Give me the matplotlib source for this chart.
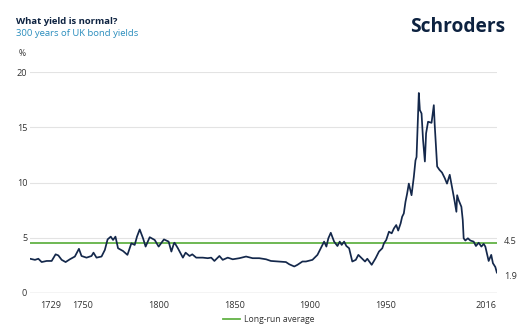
import matplotlib
matplotlib.use("Agg")
import matplotlib.pyplot as plt
import matplotlib.transforms as mtransforms
from matplotlib.lines import Line2D

plt.rcParams['font.family'] = ['Open Sans', 'DejaVu Sans']

# UK bond yield series (%)
years = [1715.1, 1718.4, 1720.6, 1722.8, 1726.1, 1729.4, 1732.0, 1733.8, 1736.0, 1738.6,
         1741.4, 1744.7, 1747.4, 1749.1, 1752.4, 1755.7, 1757.0, 1759.0, 1762.3, 1764.5,
         1766.3, 1768.4, 1769.9, 1771.5, 1773.2, 1776.5, 1779.4, 1782.0, 1784.2, 1785.7,
         1787.5, 1789.7, 1791.4, 1794.1, 1797.4, 1800.0, 1803.5, 1806.6, 1808.4, 1810.1,
         1810.5, 1812.7, 1816.0, 1817.8, 1820.4, 1822.2, 1824.8, 1829.1, 1832.4, 1834.7,
         1836.8, 1840.1, 1842.3, 1845.6, 1848.9, 1853.3, 1857.7, 1862.0, 1866.4, 1870.9,
         1874.1, 1879.6, 1884.0, 1886.2, 1889.5, 1891.6, 1894.9, 1897.2, 1901.5, 1904.8,
         1907.0, 1909.2, 1910.7, 1912.0, 1913.6, 1915.8, 1918.0, 1919.5, 1920.8, 1922.4,
         1923.9, 1925.7, 1927.8, 1930.1, 1931.8, 1934.0, 1936.2, 1937.7, 1940.6, 1943.2,
         1945.4, 1947.6, 1948.7, 1950.2, 1952.0, 1953.8, 1955.3, 1956.8, 1958.1, 1959.7,
         1960.7, 1961.8, 1962.9, 1964.0, 1965.1, 1966.9, 1968.4, 1969.5, 1970.2, 1971.1,
         1971.7, 1972.4, 1973.5, 1974.5, 1975.7, 1976.5, 1977.8, 1980.1, 1981.6, 1982.2,
         1983.8, 1985.3, 1987.0, 1988.8, 1990.3, 1992.1, 1993.6, 1995.4, 1996.5, 1997.0,
         1998.0, 1999.8, 2000.7, 2001.3, 2002.4, 2004.1, 2005.7, 2007.9, 2009.4, 2011.2,
         2013.0, 2014.5, 2015.6, 2016.6, 2017.8, 2019.5, 2020.6, 2022.2, 2023.2]
yields = [3.1, 3.0, 3.1, 2.8, 2.9, 2.9, 3.5, 3.4, 3.0, 2.8,
          3.05, 3.3, 4.0, 3.35, 3.2, 3.35, 3.65, 3.2, 3.3, 3.9,
          4.85, 5.1, 4.8, 5.1, 4.05, 3.8, 3.45, 4.5, 4.35, 5.1,
          5.75, 4.95, 4.2, 5.05, 4.8, 4.2, 4.85, 4.65, 3.75, 4.5,
          4.55, 4.05, 3.2, 3.65, 3.35, 3.5, 3.2, 3.2, 3.15, 3.2,
          2.9, 3.35, 3.0, 3.2, 3.05, 3.15, 3.3, 3.15, 3.15, 3.05,
          2.9, 2.85, 2.8, 2.6, 2.4, 2.55, 2.85, 2.85, 3.0, 3.45,
          4.05, 4.65, 4.2, 4.95, 5.45, 4.65, 4.25, 4.65, 4.35, 4.65,
          4.25, 4.05, 2.85, 3.0, 3.45, 3.15, 2.85, 3.1, 2.55, 3.15,
          3.75, 4.05, 4.5, 4.8, 5.55, 5.4, 5.85, 6.15, 5.65, 6.3,
          6.9, 7.2, 8.25, 9.0, 9.9, 8.85, 10.5, 12.0, 12.3, 15.95,
          18.1, 16.55, 16.25, 13.85, 11.9, 14.45, 15.5, 15.4, 17.0, 15.2,
          11.45, 11.15, 10.9, 10.4, 9.9, 10.7, 9.6, 8.25, 7.35, 8.85,
          8.4, 7.8, 6.6, 4.95, 4.75, 4.95, 4.75, 4.65, 4.25, 4.55,
          4.2, 4.45, 4.2, 3.6, 2.9, 3.45, 2.7, 2.35, 1.85]

long_run_average = 4.5
latest_value = 1.9
x_tick_years = [1729, 1750, 1800, 1850, 1900, 1950, 2016]
x_tick_labels = ["1729", "1750", "1800", "1850", "1900", "1950", "2016"]
y_ticks = [0, 5, 10, 15, 20]

navy = '#14284b'
green = '#62b245'
grid_c = '#e3e3e3'
text_c = '#333333'

W, H = 529, 331
fig = plt.figure(figsize=(W / 100, H / 100), dpi=100)
ax = fig.add_axes([30 / W, 1 - 293 / H, (497 - 30) / W, (293 - 72) / H])

ax.set_xlim(1715.1, 2023.3)
ax.set_ylim(0, 20)

for v in y_ticks[1:]:
    ax.axhline(v, color=grid_c, lw=0.8, zorder=1)
ax.axhline(0, color='#c9c9c9', lw=1.0, zorder=1)

ax.axhline(long_run_average, color=green, lw=1.3, zorder=2)
ax.plot(years, yields, color=navy, lw=1.25, zorder=3, solid_joinstyle='round')

for s in ax.spines.values():
    s.set_visible(False)

ax.set_yticks(y_ticks)
ax.set_yticklabels([str(v) for v in y_ticks])
ax.set_xticks(x_tick_years)
ax.set_xticklabels(x_tick_labels)
ax.tick_params(axis='both', length=0, labelsize=6.6, colors=text_c)
ax.tick_params(axis='y', pad=2)
ax.tick_params(axis='x', pad=6)

trans = mtransforms.blended_transform_factory(ax.transAxes, ax.transData)
ax.text(1.015, long_run_average + 0.2, "4.5", transform=trans, fontsize=6.6,
        color=text_c, va='center', ha='left')
ax.text(1.015, latest_value - 0.4, "1.9", transform=trans, fontsize=6.6,
        color=text_c, va='center', ha='left')

fig.text(22 / W, 1 - 53 / H, "%", fontsize=6.2, color=text_c, ha='center', va='center')

fig.text(16.5 / W, 1 - 21 / H, "What yield is normal?", fontsize=6.8, fontweight='bold',
         color='#0d2240', ha='left', va='center')
fig.text(16.5 / W, 1 - 33 / H, "300 years of UK bond yields", fontsize=6.8,
         color='#2a8dbd', ha='left', va='center')
fig.text(505 / W, 1 - 27 / H, "Schroders", fontsize=13.8, fontweight='bold',
         color='#0d2240', ha='right', va='center')

handle = Line2D([], [], color=green, lw=1.3)
fig.legend([handle], ["Long-run average"], loc='center',
           bbox_to_anchor=(268.5 / W, 1 - 320 / H), frameon=False, fontsize=6.2,
           handlelength=2.0, handletextpad=0.4, borderpad=0, labelcolor=text_c)

fig.savefig("out.png", dpi=100)
